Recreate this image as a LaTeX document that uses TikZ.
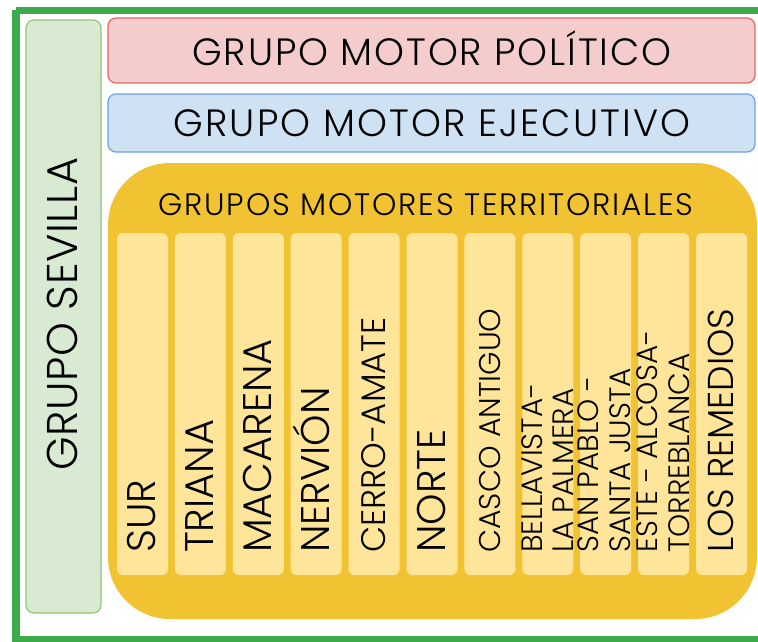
\documentclass[tikz,border=0pt]{standalone}
\usepackage{fontspec}
\setmainfont{Poppins}[UprightFont=* Light]
\definecolor{frameG}{HTML}{3DAA4B}
\definecolor{sevFill}{HTML}{D9EAD3}
\definecolor{sevLine}{HTML}{93C47D}
\definecolor{polFill}{HTML}{F4CCCC}
\definecolor{polLine}{HTML}{E06666}
\definecolor{ejeFill}{HTML}{CFE2F3}
\definecolor{ejeLine}{HTML}{6D9EEB}
\definecolor{terFill}{HTML}{F1C232}
\definecolor{colFill}{HTML}{FFE599}
\newcommand{\fs}[1]{\fontsize{#1}{#1}\selectfont}
\newcommand{\fsl}[2]{\fontsize{#1}{#1}\selectfont\addfontfeature{LetterSpace=#2}}
\begin{document}
\begin{tikzpicture}[x=1pt,y=-1pt,
  box/.style={rounded corners=8pt, line width=1.2pt},
  colbox/.style={fill=colFill, rounded corners=6pt},
  vtext/.style={rotate=90, anchor=base west, inner sep=0pt, text=black},
  htext/.style={anchor=base, inner sep=0pt, text=black}]
\useasboundingbox (0,0) rectangle (758,642);
\fill[white] (0,0) rectangle (758,642);
% outer green frame
\draw[frameG, line width=7.5pt] (16,10.5) -- (16,639.5) -- (800,639.5);
\draw[frameG, line width=7.5pt] (16,10.5) -- (800,10.5);
% boxes
\draw[box, fill=sevFill, draw=sevLine] (26,20) rectangle (101,613);
\coordinate (sev) at (77.5,314);
\draw[box, fill=polFill, draw=polLine] (108,18) rectangle (755,83);
\draw[box, fill=ejeFill, draw=ejeLine] (108,94) rectangle (755,152);
\fill[terFill, rounded corners=62pt] (108,163) rectangle (757,619);
% columns
\foreach \i in {0,...,10}{
  \fill[colbox] ({117+57.9*\i},233) rectangle ({168+57.9*\i},575);
}
% texts
\node[htext] (pol) at (432,65.3) {\fsl{38}{5}GRUPO MOTOR POLÍTICO};
\node[htext] (eje) at (432,136.3) {\fsl{38}{5.6}GRUPO MOTOR EJECUTIVO};
\node[htext] (ter) at (426,215) {\fsl{31}{5.8}GRUPOS MOTORES TERRITORIALES};
\node[rotate=90, anchor=base, inner sep=0pt] (sevt) at (sev) {\fsl{43}{1.4}GRUPO SEVILLA};
\node[vtext] (c1) at (155,553) {\fs{40}SUR};
\node[vtext] (c2) at (213,553) {\fs{40}TRIANA};
\node[vtext] (c3) at (271,553) {\fs{40}MACARENA};
\node[vtext] (c4) at (329,553) {\fs{40}NERVIÓN};
\node[vtext] (c5) at (385,553) {\fs{34}CERRO-AMATE};
\node[vtext] (c6) at (445,553) {\fs{40}NORTE};
\node[vtext] (c7) at (500,553) {\fs{30}CASCO ANTIGUO};
\node[vtext] (c8a) at (542,553) {\fs{29.5}BELLAVISTA-};
\node[vtext] (c8b) at (573,553) {\fs{29.5}LA PALMERA};
\node[vtext] (c9a) at (598,553) {\fs{29.5}SAN PABLO -};
\node[vtext] (c9b) at (630,553) {\fs{29.5}SANTA JUSTA};
\node[vtext] (c10a) at (657,553) {\fs{29.5}ESTE - ALCOSA-};
\node[vtext] (c10b) at (689,553) {\fs{29.5}TORREBLANCA};
\node[vtext] (c11) at (733,553) {\fs{36}LOS REMEDIOS};
\end{tikzpicture}
\end{document}
